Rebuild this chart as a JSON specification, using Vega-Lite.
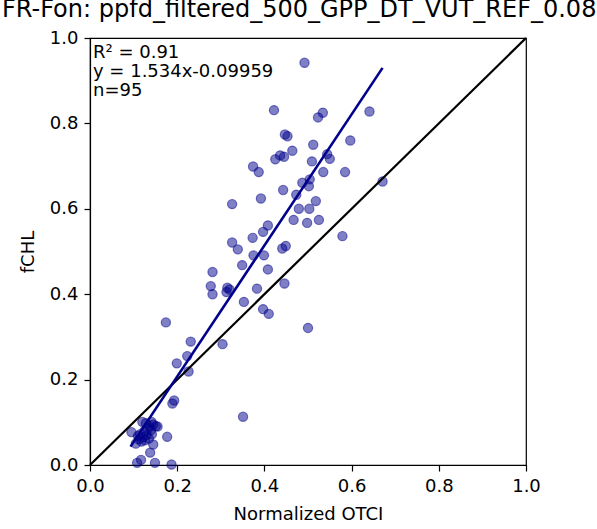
{
  "$schema": "https://vega.github.io/schema/vega-lite/v6.json",
  "autosize": {"type": "none"},
  "padding": {"left": 90, "top": 38, "right": 71, "bottom": 64},
  "width": 436,
  "height": 427,
  "background": "white",
  "config": {
    "view": {"stroke": "black", "strokeWidth": 1.2},
    "font": "DejaVu Sans",
    "axis": {
      "grid": false,
      "domainColor": "black",
      "domainWidth": 1.2,
      "tickColor": "black",
      "tickWidth": 1.2,
      "tickSize": 6,
      "labelFont": "DejaVu Sans",
      "labelFontSize": 18,
      "labelColor": "black",
      "labelFlush": false,
      "labelOverlap": false,
      "titleFont": "DejaVu Sans",
      "titleFontSize": 18,
      "titleFontWeight": "normal",
      "titleColor": "black",
      "labelPadding": 6
    }
  },
  "title": {
    "text": "FR-Fon: ppfd_filtered_500_GPP_DT_VUT_REF_0.08",
    "anchor": "start",
    "frame": "group",
    "dx": -88,
    "offset": 7,
    "font": "DejaVu Sans",
    "fontSize": 24,
    "fontWeight": "normal",
    "color": "black"
  },
  "datasets": {
    "points": [
      {"otci": 0.492, "fchl": 0.942}, {"otci": 0.422, "fchl": 0.831}, {"otci": 0.534, "fchl": 0.825},
      {"otci": 0.523, "fchl": 0.814}, {"otci": 0.641, "fchl": 0.828}, {"otci": 0.447, "fchl": 0.774},
      {"otci": 0.453, "fchl": 0.770}, {"otci": 0.512, "fchl": 0.750}, {"otci": 0.464, "fchl": 0.736},
      {"otci": 0.597, "fchl": 0.760}, {"otci": 0.436, "fchl": 0.725}, {"otci": 0.445, "fchl": 0.722},
      {"otci": 0.425, "fchl": 0.716}, {"otci": 0.544, "fchl": 0.728}, {"otci": 0.550, "fchl": 0.717},
      {"otci": 0.509, "fchl": 0.711}, {"otci": 0.374, "fchl": 0.699}, {"otci": 0.387, "fchl": 0.686},
      {"otci": 0.535, "fchl": 0.686}, {"otci": 0.585, "fchl": 0.686}, {"otci": 0.671, "fchl": 0.664},
      {"otci": 0.487, "fchl": 0.661}, {"otci": 0.504, "fchl": 0.669}, {"otci": 0.502, "fchl": 0.653},
      {"otci": 0.443, "fchl": 0.644}, {"otci": 0.473, "fchl": 0.633}, {"otci": 0.392, "fchl": 0.624},
      {"otci": 0.326, "fchl": 0.611}, {"otci": 0.518, "fchl": 0.618}, {"otci": 0.479, "fchl": 0.600},
      {"otci": 0.503, "fchl": 0.600}, {"otci": 0.467, "fchl": 0.574}, {"otci": 0.498, "fchl": 0.567},
      {"otci": 0.525, "fchl": 0.574}, {"otci": 0.408, "fchl": 0.561}, {"otci": 0.397, "fchl": 0.546},
      {"otci": 0.373, "fchl": 0.532}, {"otci": 0.579, "fchl": 0.536}, {"otci": 0.326, "fchl": 0.521},
      {"otci": 0.339, "fchl": 0.505}, {"otci": 0.441, "fchl": 0.507}, {"otci": 0.449, "fchl": 0.513},
      {"otci": 0.375, "fchl": 0.491}, {"otci": 0.399, "fchl": 0.491}, {"otci": 0.349, "fchl": 0.468},
      {"otci": 0.408, "fchl": 0.458}, {"otci": 0.281, "fchl": 0.452}, {"otci": 0.277, "fchl": 0.419},
      {"otci": 0.281, "fchl": 0.400}, {"otci": 0.315, "fchl": 0.415}, {"otci": 0.320, "fchl": 0.411},
      {"otci": 0.313, "fchl": 0.405}, {"otci": 0.383, "fchl": 0.413}, {"otci": 0.446, "fchl": 0.425},
      {"otci": 0.353, "fchl": 0.382}, {"otci": 0.397, "fchl": 0.365}, {"otci": 0.410, "fchl": 0.354},
      {"otci": 0.500, "fchl": 0.321}, {"otci": 0.304, "fchl": 0.283}, {"otci": 0.174, "fchl": 0.334},
      {"otci": 0.231, "fchl": 0.289}, {"otci": 0.223, "fchl": 0.255}, {"otci": 0.199, "fchl": 0.238},
      {"otci": 0.226, "fchl": 0.219}, {"otci": 0.193, "fchl": 0.151}, {"otci": 0.189, "fchl": 0.144},
      {"otci": 0.351, "fchl": 0.113}, {"otci": 0.120, "fchl": 0.101}, {"otci": 0.141, "fchl": 0.101},
      {"otci": 0.151, "fchl": 0.091}, {"otci": 0.155, "fchl": 0.090}, {"otci": 0.095, "fchl": 0.077},
      {"otci": 0.177, "fchl": 0.066}, {"otci": 0.145, "fchl": 0.048}, {"otci": 0.138, "fchl": 0.029},
      {"otci": 0.117, "fchl": 0.012}, {"otci": 0.108, "fchl": 0.005}, {"otci": 0.149, "fchl": 0.005},
      {"otci": 0.187, "fchl": 0.001}, {"otci": 0.128, "fchl": 0.098}, {"otci": 0.135, "fchl": 0.092},
      {"otci": 0.145, "fchl": 0.095}, {"otci": 0.133, "fchl": 0.085}, {"otci": 0.125, "fchl": 0.080},
      {"otci": 0.140, "fchl": 0.082}, {"otci": 0.115, "fchl": 0.072}, {"otci": 0.122, "fchl": 0.065},
      {"otci": 0.130, "fchl": 0.070}, {"otci": 0.112, "fchl": 0.060}, {"otci": 0.118, "fchl": 0.055},
      {"otci": 0.126, "fchl": 0.058}, {"otci": 0.135, "fchl": 0.062}, {"otci": 0.110, "fchl": 0.068},
      {"otci": 0.142, "fchl": 0.072}, {"otci": 0.105, "fchl": 0.050}
    ],
    "fit": [{"otci": 0.093, "fchl": 0.043}, {"otci": 0.671, "fchl": 0.930}],
    "oneToOne": [{"otci": 0.0, "fchl": 0.0}, {"otci": 1.0, "fchl": 1.0}],
    "stats": [{"label": ["R² = 0.91", "y = 1.534x-0.09959", "n=95"], "otci": 0.0, "fchl": 1.0}]
  },
  "encoding": {
    "x": {
      "field": "otci", "type": "quantitative", "title": "Normalized OTCI",
      "scale": {"domain": [0, 1], "nice": false, "zero": false},
      "axis": {"values": [0, 0.2, 0.4, 0.6, 0.8, 1.0], "format": ".1f", "titlePadding": 10}
    },
    "y": {
      "field": "fchl", "type": "quantitative", "title": "fCHL",
      "scale": {"domain": [0, 1], "nice": false, "zero": false},
      "axis": {"values": [0, 0.2, 0.4, 0.6, 0.8, 1.0], "format": ".1f", "titlePadding": 12}
    }
  },
  "layer": [
    {
      "data": {"name": "points"},
      "mark": {"type": "circle", "color": "#00008B", "stroke": "#00008B", "strokeWidth": 1.2, "fillOpacity": 0.5, "strokeOpacity": 0.5, "size": 85}
    },
    {
      "data": {"name": "oneToOne"},
      "mark": {"type": "line", "color": "black", "strokeWidth": 2.2}
    },
    {
      "data": {"name": "fit"},
      "mark": {"type": "line", "color": "#00008B", "strokeWidth": 2.6}
    },
    {
      "data": {"name": "stats"},
      "mark": {"type": "text", "align": "left", "baseline": "top", "dx": 3, "dy": 6, "fontSize": 18, "lineHeight": 19, "color": "black", "font": "DejaVu Sans"},
      "encoding": {"text": {"field": "label"}}
    }
  ]
}
